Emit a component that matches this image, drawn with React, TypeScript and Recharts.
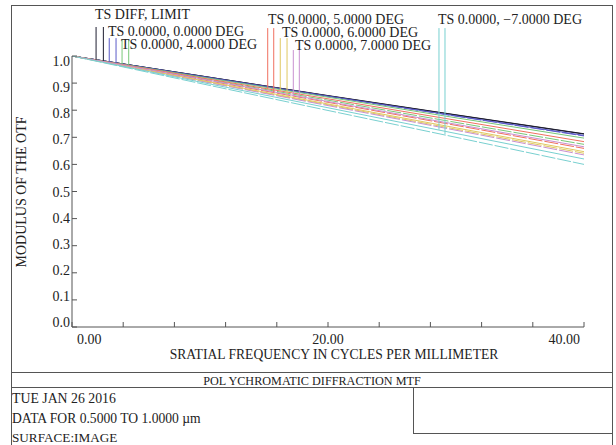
import React from 'react';
import { LineChart, Line, XAxis, YAxis, ReferenceLine } from 'recharts';

// spatial frequency samples (cycles/mm)
const freq = [0, 10, 20, 30, 40];

// MTF, T = tangential, S = sagittal
const diffT = [1, 0.927, 0.854, 0.783, 0.713];
const diffS = [1, 0.927, 0.853, 0.782, 0.712];
const f0T = [1, 0.926, 0.852, 0.779, 0.707];
const f0S = [1, 0.925, 0.851, 0.778, 0.705];
const f4T = [1, 0.923, 0.848, 0.772, 0.697];
const f4S = [1, 0.918, 0.837, 0.755, 0.674];
const f5T = [1, 0.92, 0.842, 0.763, 0.684];
const f5S = [1, 0.914, 0.829, 0.744, 0.659];
const f6T = [1, 0.911, 0.823, 0.735, 0.647];
const f6S = [1, 0.909, 0.82, 0.73, 0.641];
const f7T = [1, 0.916, 0.832, 0.748, 0.665];
const f7S = [1, 0.908, 0.817, 0.726, 0.635];
const fm7T = [1, 0.904, 0.809, 0.714, 0.62];
const fm7S = [1, 0.899, 0.799, 0.7, 0.6];

const fieldLabels = [
  'TS DIFF, LIMIT',
  'TS 0.0000, 0.0000 DEG',
  'TS 0.0000, 4.0000 DEG',
  'TS 0.0000, 5.0000 DEG',
  'TS 0.0000, 6.0000 DEG',
  'TS 0.0000, 7.0000 DEG',
  'TS 0.0000, \u22127.0000 DEG',
];
const fieldColors = ['#1e1e30', '#5a5ac8', '#78c878', '#f07060', '#e0c860', '#c890d0', '#78d0d0'];

// label marker pins: frequency of T / S pin, top of pin, where each pin meets its curve
const markerFreq = [[1.88, 2.45], [2.91, 3.44], [3.91, 4.43], [15.29, 15.76], [16.27, 16.8], [17.29, 17.76], [28.67, 29.14]];
const markerTop = [1.107, 1.066, 1.059, 1.103, 1.066, 1.022, 1.103];
const markerBase = [[0.986, 0.982], [0.979, 0.975], [0.97, 0.966], [0.879, 0.866], [0.867, 0.853], [0.855, 0.843], [0.728, 0.711]];

// where each field label sits (left x, baseline y)
const labelPos = [[95, 19], [108, 36], [121, 49], [268, 24], [282, 37], [295, 50], [438, 24]];

const yTicks = [0, 0.1, 0.2, 0.3, 0.4, 0.5, 0.6, 0.7, 0.8, 0.9, 1.0];
const xTicks = [0, 4, 8, 12, 16, 20, 24, 28, 32, 36, 40];
const xLabelled = [0, 20, 40];

const seriesT = [diffT, f0T, f4T, f5T, f6T, f7T, fm7T];
const seriesS = [diffS, f0S, f4S, f5S, f6S, f7S, fm7S];

const data = freq.map((f, i) => {
  const row: Record<string, number> = { f };
  seriesT.forEach((s, k) => (row[`t${k}`] = s[i]));
  seriesS.forEach((s, k) => (row[`s${k}`] = s[i]));
  return row;
});

const FONT = '"Liberation Serif", "DejaVu Serif", serif';
const INK = '#222';
const FRAME = '#555';

const LeftTick = (props: any) => {
  const { x, y, payload } = props;
  // zemax spaces the labels slightly tighter than the ticks
  const ly = y + (191.5 - y) * 0.037;
  return (
    <g>
      <line x1={x} y1={y} x2={x + 5} y2={y} stroke={FRAME} />
      <text x={x - 2} y={ly + 5} textAnchor="end" fontSize={14} fill={INK} fontFamily={FONT}>
        {Number(payload.value).toFixed(1)}
      </text>
    </g>
  );
};

const RightTick = (props: any) => {
  const { x, y } = props;
  return <line x1={x} y1={y} x2={x - 5} y2={y} stroke={FRAME} />;
};

const BottomTick = (props: any) => {
  const { x, y, payload } = props;
  const v = payload.value;
  let label = null;
  if (xLabelled.includes(v)) {
    const anchor = v === 0 ? 'start' : v === 40 ? 'end' : 'middle';
    const dx = v === 0 ? 5 : v === 40 ? -4 : 0;
    label = (
      <text x={x + dx} y={y + 17} textAnchor={anchor} fontSize={14} fill={INK} fontFamily={FONT}>
        {v.toFixed(2)}
      </text>
    );
  }
  return (
    <g>
      <line x1={x} y1={y} x2={x} y2={y - 5} stroke={FRAME} />
      {label}
    </g>
  );
};

const TopTick = (props: any) => {
  const { x, y } = props;
  return <line x1={x} y1={y} x2={x} y2={y + 5} stroke={FRAME} />;
};

export default function App() {
  return (
    <div style={{ position: 'absolute', left: 0, top: 0, width: 616, height: 445, background: '#fff', overflow: 'hidden' }}>
      <div style={{ position: 'absolute', left: 0, top: 0 }}>
        <LineChart width={616} height={445} data={data} margin={{ top: 56, right: 32, bottom: 88, left: 32 }}>
          <XAxis
            dataKey="f"
            type="number"
            domain={[0, 40]}
            ticks={xTicks}
            allowDataOverflow
            height={30}
            tickSize={0}
            tickMargin={0}
            tickLine={false}
            tick={<BottomTick />}
            axisLine={{ stroke: FRAME }}
          />
          <XAxis
            xAxisId="top"
            orientation="top"
            type="number"
            domain={[0, 40]}
            ticks={xTicks}
            allowDataOverflow
            height={0}
            tickSize={0}
            tickMargin={0}
            tickLine={false}
            tick={<TopTick />}
            axisLine={{ stroke: FRAME }}
          />
          <YAxis
            type="number"
            domain={[0, 1]}
            ticks={yTicks}
            allowDataOverflow
            width={40}
            tickSize={0}
            tickMargin={0}
            tickLine={false}
            tick={<LeftTick />}
            axisLine={{ stroke: FRAME }}
          />
          <YAxis
            yAxisId="right"
            orientation="right"
            type="number"
            domain={[0, 1]}
            ticks={yTicks}
            allowDataOverflow
            width={0}
            tickSize={0}
            tickMargin={0}
            tickLine={false}
            tick={<RightTick />}
            axisLine={{ stroke: FRAME }}
          />
          {seriesS.map((_, k) => (
            <Line
              key={`s${k}`}
              dataKey={`s${k}`}
              type="linear"
              stroke={fieldColors[k]}
              strokeWidth={1}
              strokeDasharray={k === 0 ? undefined : '14 2'}
              dot={false}
              activeDot={false}
              isAnimationActive={false}
            />
          ))}
          {seriesT.map((_, k) => (
            <Line
              key={`t${k}`}
              dataKey={`t${k}`}
              type="linear"
              stroke={fieldColors[k]}
              strokeWidth={1}
              dot={false}
              activeDot={false}
              isAnimationActive={false}
            />
          ))}
          {markerFreq.map((pair, k) =>
            pair.map((fx, j) => (
              <ReferenceLine
                key={`m${k}-${j}`}
                segment={[
                  { x: fx, y: markerTop[k] },
                  { x: fx, y: markerBase[k][j] },
                ]}
                stroke={fieldColors[k]}
                strokeWidth={1}
                ifOverflow="visible"
              />
            ))
          )}
        </LineChart>
      </div>
      <svg width={616} height={445} style={{ position: 'absolute', left: 0, top: 0, pointerEvents: 'none' }}>
        <g fontFamily={FONT} fill={INK}>
          {fieldLabels.map((t, k) => (
            <text key={t} x={labelPos[k][0]} y={labelPos[k][1]} fontSize={14}>
              {t}
            </text>
          ))}
          <text x={23} y={192} fontSize={14} textAnchor="middle" transform="rotate(-90 23 192)" dominantBaseline="middle">
            MODULUS OF THE OTF
          </text>
          <text x={334} y={359} fontSize={13.6} textAnchor="middle">
            SRATIAL FREQUENCY IN CYCLES PER MILLIMETER
          </text>
          <text x={312} y={385} fontSize={12.2} textAnchor="middle">
            POL YCHROMATIC DIFFRACTION MTF
          </text>
          <text x={12} y={403} fontSize={13.8}>TUE JAN 26 2016</text>
          <text x={12} y={423} fontSize={13.6}>DATA FOR 0.5000 TO 1.0000 {'\u00b5'}m</text>
          <text x={12} y={442} fontSize={13.2}>SURFACE:IMAGE</text>
        </g>
        <g stroke={FRAME} fill="none" strokeWidth={1}>
          <rect x={11.5} y={5.5} width={601} height={460} />
          <line x1={11} y1={372.5} x2={613} y2={372.5} />
          <line x1={11} y1={387.5} x2={613} y2={387.5} />
          <line x1={413.5} y1={387} x2={413.5} y2={433} />
          <line x1={413} y1={433.5} x2={613} y2={433.5} />
        </g>
      </svg>
    </div>
  );
}
